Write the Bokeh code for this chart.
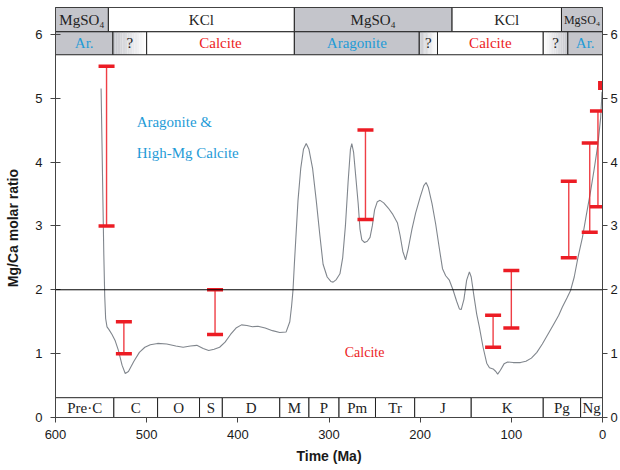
from bokeh.plotting import figure
from bokeh.models import Range1d, LinearAxis, FixedTicker, Span
from bokeh.core.properties import value
from bokeh.embed import file_html
from bokeh.resources import INLINE

# ---------------- data ----------------
curve_t = [550, 549, 548, 547, 546, 545, 543.5, 541.5, 538, 534.5, 531, 527, 523.5, 520, 514, 508, 502, 496,
           488, 478, 468, 460, 452, 445, 438, 432, 426, 420, 414, 408, 402, 396, 390, 384, 378, 370, 362, 354,
           347, 343, 341, 339.5, 338, 336, 334, 331, 328, 325, 322, 318, 314, 310, 306.5, 302, 298, 295.5, 292,
           288, 285, 282, 279, 276.5, 275, 273, 270.5, 268, 266, 264, 261, 258, 255, 252.5, 250, 247, 244, 240,
           235, 230, 225, 222, 219, 216, 213, 209, 205, 200, 196, 193.5, 191, 187, 183, 179, 175.5, 172, 168,
           164, 160, 157, 155, 152, 149, 146, 144, 141, 138, 135, 131, 127, 124, 120, 117, 115, 112, 108, 104,
           98, 90, 84, 78, 72, 66, 60, 54, 48, 44, 39, 35, 31, 27, 22, 18, 13, 9, 5, 2, 0.5]
curve_mgca = [5.15, 4.3, 3.4, 2.55, 1.9, 1.55, 1.42, 1.38, 1.3, 1.2, 1.05, 0.82, 0.69, 0.72, 0.88, 1.02, 1.1, 1.14,
              1.16, 1.15, 1.12, 1.1, 1.12, 1.13, 1.08, 1.05, 1.07, 1.1, 1.18, 1.3, 1.4, 1.45, 1.44, 1.42, 1.43, 1.4, 1.36, 1.33,
              1.34, 1.5, 1.75, 1.99, 2.4, 2.9, 3.4, 3.9, 4.2, 4.29, 4.2, 3.9, 3.4, 2.85, 2.4, 2.2, 2.13, 2.12, 2.16,
              2.25, 2.5, 3.0, 3.7, 4.2, 4.29, 4.15, 3.75, 3.35, 2.95, 2.78, 2.74, 2.76, 2.82, 3.0, 3.25, 3.38, 3.4, 3.36,
              3.28, 3.18, 3.05, 2.85, 2.6, 2.47, 2.65, 2.95, 3.2, 3.45, 3.63, 3.68, 3.6, 3.35, 3.03, 2.65, 2.33, 2.22, 2.15,
              2.0, 1.82, 1.7, 1.69, 1.85, 2.15, 2.28, 2.2, 1.9, 1.62, 1.41, 1.1, 0.85, 0.78, 0.76, 0.72, 0.68, 0.74, 0.84, 0.87,
              0.86, 0.86, 0.88, 0.93, 1.02, 1.15, 1.3, 1.45, 1.6, 1.73, 1.87, 1.99, 2.2, 2.5, 2.82, 3.15, 3.55, 3.9, 4.28, 4.7, 5.1]

# fluid-inclusion Mg/Ca ranges
bar_t = [544, 525, 425, 260, 120, 100, 37, 14, 5]
bar_low = [3.0, 1.0, 1.3, 3.1, 1.1, 1.4, 2.5, 2.9, 3.3]
bar_high = [5.5, 1.5, 2.0, 4.5, 1.6, 2.3, 3.7, 4.3, 4.8]
modern_t = [0.5]
modern_mgca = [5.2]

# evaporite mineralogy (top row)
evap_edges = [600, 542, 338, 165, 45, 0]
evap_labels = ["MgSO₄", "KCl", "MgSO₄", "KCl", "MgSO₄"]

# carbonate mineralogy (second row)
carb_edges = [600, 537, 500, 338, 201, 181, 65, 38, 0]
carb_labels = ["Ar.", "?", "Calcite", "Aragonite", "?", "Calcite", "?", "Ar."]

# geologic periods (bottom row)
period_edges = [600, 536, 488, 442, 417, 354, 322, 289, 249, 206, 144, 65, 24, 0]
period_labels = ["Pre·C", "C", "O", "S", "D", "M", "P", "Pm", "Tr", "J", "K", "Pg", "Ng"]

x_ticks = [600, 500, 400, 300, 200, 100, 0]
y_ticks = [0, 1, 2, 3, 4, 5, 6]

# ---------------- style ----------------
GRAY = "#c4c5cb"
RED = "#ec1c24"
BLUE = "#1f9bd7"
SERIF = "Liberation Serif"
SANS = "Liberation Sans"

ROW1 = (6.04, 6.42)
ROW2 = (5.68, 6.04)
ROW3 = (0.0, 0.31)

p = figure(width=620, height=470, x_range=Range1d(600, 0), y_range=Range1d(0, 6.42),
           output_backend="svg", toolbar_location=None,
           min_border_left=55, min_border_right=16, min_border_top=7, min_border_bottom=53)
p.xgrid.visible = False
p.ygrid.visible = False
p.outline_line_color = "#333333"
p.outline_line_width = 1
p.background_fill_color = "white"

# axes
p.xaxis.ticker = FixedTicker(ticks=x_ticks)
p.yaxis.ticker = FixedTicker(ticks=y_ticks)

right = LinearAxis(ticker=FixedTicker(ticks=y_ticks))
p.add_layout(right, "right")

for ax in (p.xaxis[0], p.yaxis[0], right):
    ax.axis_line_color = "#444444"
    ax.major_tick_line_color = "#444444"
    ax.minor_tick_line_color = None
    ax.major_label_text_font = SANS
    ax.major_label_text_font_size = "13px"
    ax.major_label_text_color = "#1a1a1a"
p.xaxis.major_tick_out = 5
p.xaxis.major_tick_in = 0
p.xaxis.major_label_standoff = 7
p.xaxis.axis_label = "Time (Ma)"
p.xaxis.axis_label_text_font = SANS
p.xaxis.axis_label_text_font_size = "14px"
p.xaxis.axis_label_text_font_style = "bold"
p.xaxis.axis_label_text_color = "#1a1a1a"
p.xaxis.axis_label_standoff = 6

p.yaxis[0].major_tick_out = 5
p.yaxis[0].major_tick_in = 5
p.yaxis[0].major_label_standoff = 8
# trailing no-break spaces shift the centred title down so it is centred on 0..6
p.yaxis[0].axis_label = "Mg/Ca molar ratio" + "\u00a0" * 8
p.yaxis[0].axis_label_text_font = SANS
p.yaxis[0].axis_label_text_font_size = "14px"
p.yaxis[0].axis_label_text_font_style = "bold"
p.yaxis[0].axis_label_text_color = "#1a1a1a"
p.yaxis[0].axis_label_standoff = 11

right.major_tick_out = 5
right.major_tick_in = 0
right.major_label_standoff = 3

# reference line at Mg/Ca = 2
p.add_layout(Span(location=2, dimension="width", line_color="black", line_width=1))

# curve
p.line(curve_t, curve_mgca, line_color="#80868d", line_width=1.1)

# error bars
p.segment(x0=bar_t, y0=bar_low, x1=bar_t, y1=bar_high, line_color=RED, line_width=1.4, line_alpha=0.85)
p.rect(x=bar_t + bar_t, y=bar_low + bar_high, width=16, height=3.5, width_units="screen",
       height_units="screen", fill_color=RED, line_color=None)
p.rect(x=modern_t, y=modern_mgca, width=8, height=9, width_units="screen", height_units="screen",
       fill_color=RED, line_color=None)


def band(edges, labels, row, fills, colors, sizes):
    lo, hi = row
    for i, lab in enumerate(labels):
        a, b = edges[i], edges[i + 1]
        f = fills[i]
        if f in ("grad+", "grad-"):
            n = 14
            w = (a - b) / n
            for k in range(n):
                frac = (k + 0.5) / n
                if f == "grad-":
                    frac = 1 - frac
                c0 = (0xc4, 0xc5, 0xcb)
                c = tuple(int(round(cc + (255 - cc) * frac)) for cc in c0)
                p.quad(left=[a - k * w], right=[a - (k + 1) * w], bottom=[lo], top=[hi],
                       fill_color="#%02x%02x%02x" % c, line_color=None)
        else:
            p.quad(left=[a], right=[b], bottom=[lo], top=[hi], fill_color=f, line_color=None)
        p.quad(left=[a], right=[b], bottom=[lo], top=[hi], fill_color=None,
               line_color="#222222", line_width=1)
        p.text(x=[(a + b) / 2], y=[(lo + hi) / 2], text=[lab], text_align="center",
               text_baseline="middle", text_font=value(SERIF), text_font_size=sizes[i],
               text_color=colors[i])


band(evap_edges, evap_labels, ROW1,
     [GRAY, "white", GRAY, "white", GRAY],
     ["#222222"] * 5,
     ["15px", "15px", "15px", "15px", "12px"])
band(carb_edges, carb_labels, ROW2,
     [GRAY, "grad+", "white", GRAY, "grad+", "white", "grad-", GRAY],
     [BLUE, "#222222", RED, BLUE, "#222222", RED, "#222222", BLUE],
     ["15px"] * 8)
band(period_edges, period_labels, ROW3,
     ["white"] * 13, ["#222222"] * 13, ["15px"] * 13)

# field labels
p.text(x=[511, 511], y=[4.63, 4.14], text=["Aragonite &", "High-Mg Calcite"], text_align="left",
       text_baseline="middle", text_font=value(SERIF), text_font_size="15px", text_color=BLUE)
p.text(x=[261], y=[1.02], text=["Calcite"], text_align="center", text_baseline="middle",
       text_font=value(SERIF), text_font_size="14px", text_color=RED)

open("out.html", "w").write(file_html(p, INLINE))
